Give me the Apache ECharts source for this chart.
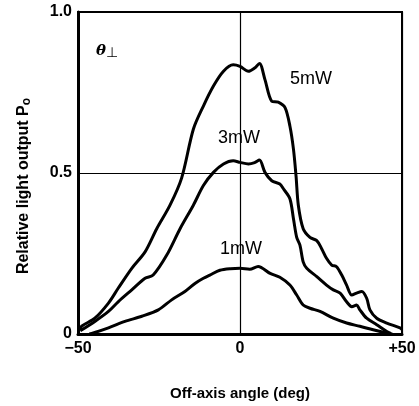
<!DOCTYPE html>
<html>
<head>
<meta charset="utf-8">
<script src="https://cdn.jsdelivr.net/npm/echarts@6/dist/echarts.min.js"></script>
<style>html,body{margin:0;padding:0;background:#fff}#c{width:419px;height:406px}</style>
</head>
<body>
<div id="c"></div>
<script>
// Off-axis angle (deg) and relative light output Po for each drive power
var ang5 = [-49.3, -48.9, -44.8, -40.6, -37.6, -33.4, -29.3, -25.7, -21.6, -18, -14.4, -11.3, -8.2, -5.1, -2.1, 0, 2.6, 4.5, 6, 7.7, 9.8, 11.8, 13.9, 15.4, 16.5, 17.3, 18, 19.5, 21.6, 23.7, 25.2, 26.7, 28.3, 29.8, 31.4, 32.9, 34.5, 36, 37.6, 39.1, 40.1, 42.2, 45.3, 49.4, 50];
var p5   = [0.013, 0.024, 0.049, 0.096, 0.142, 0.204, 0.255, 0.327, 0.40, 0.485, 0.636, 0.708, 0.77, 0.816, 0.836, 0.831, 0.816, 0.826, 0.84, 0.79, 0.723, 0.72, 0.703, 0.646, 0.574, 0.49, 0.40, 0.327, 0.30, 0.29, 0.265, 0.235, 0.214, 0.209, 0.183, 0.152, 0.121, 0.127, 0.132, 0.111, 0.075, 0.049, 0.034, 0.019, 0.014];

var ang3 = [-49.3, -44.8, -40.6, -37.6, -33.4, -29.3, -26.8, -22.6, -18.5, -14.4, -11.3, -8.2, -5.1, -2.1, 0, 2.6, 4.5, 6, 7.7, 9.8, 12.3, 13.4, 15.4, 16.5, 17.5, 18.5, 19.5, 20.6, 23.7, 26.7, 28.8, 30.9, 32.9, 34.5, 36, 37, 39.1, 42.2, 45.3, 46.5];
var p3   = [0.01, 0.039, 0.07, 0.10, 0.137, 0.173, 0.183, 0.245, 0.327, 0.40, 0.461, 0.502, 0.528, 0.538, 0.533, 0.528, 0.532, 0.54, 0.502, 0.476, 0.466, 0.451, 0.42, 0.358, 0.30, 0.276, 0.224, 0.204, 0.178, 0.152, 0.137, 0.127, 0.10, 0.085, 0.09, 0.075, 0.049, 0.029, 0.008, 0.002];

var ang1 = [-46.5, -45.3, -40.6, -35.5, -30.3, -25.2, -21.1, -17, -13.9, -11.3, -9.3, -6.2, -3, 0, 3, 5.6, 9.3, 12.3, 15.4, 17.5, 19.5, 21.6, 24.7, 28.8, 32.9, 37, 41.1, 45.3, 47];
var p1   = [0, 0.003, 0.019, 0.039, 0.055, 0.075, 0.106, 0.132, 0.157, 0.173, 0.183, 0.198, 0.203, 0.204, 0.201, 0.21, 0.188, 0.176, 0.152, 0.121, 0.09, 0.08, 0.07, 0.049, 0.034, 0.024, 0.013, 0.003, 0];

var xTicks = {'-50': '\u221250', '0': '0', '50': '+50'};
var yTicks = {'0': '0', '0.5': '0.5', '1': '1.0'};
var seriesNames = ['5mW', '3mW', '1mW'];

function pairs(xs, ys) { return xs.map(function (x, i) { return [x, ys[i]]; }); }

var chart = echarts.init(document.getElementById('c'));
var FONT = '"Liberation Sans", Arial, sans-serif';
var lineSeries = function (name, xs, ys) {
  return {
    name: name, type: 'line', data: pairs(xs, ys), showSymbol: false, smooth: 0.3,
    lineStyle: { color: '#000', width: 3 }, itemStyle: { color: '#000' }, silent: true
  };
};
chart.setOption({
  animation: false,
  backgroundColor: '#fff',
  grid: { left: 78, right: 17, top: 12, bottom: 70, show: true, borderColor: '#000', borderWidth: 2, backgroundColor: 'transparent' },
  xAxis: {
    type: 'value', min: -50, max: 50, interval: 50,
    name: 'Off-axis angle (deg)', nameLocation: 'middle', nameGap: 52,
    nameTextStyle: { color: '#000', fontFamily: FONT, fontWeight: 'bold', fontSize: 15 },
    axisLine: { show: true, onZero: false, lineStyle: { color: '#000', width: 3 } },
    axisTick: { show: false },
    axisLabel: { color: '#000', fontFamily: FONT, fontWeight: 'bold', fontSize: 16, margin: 7,
      formatter: function (v) { return xTicks[String(v)]; } },
    splitLine: { show: true, lineStyle: { color: '#000', width: 1.2 } }
  },
  yAxis: {
    type: 'value', min: 0, max: 1, interval: 0.5,
    axisLine: { show: true, onZero: false, lineStyle: { color: '#000', width: 3 } },
    axisTick: { show: false },
    axisLabel: { color: '#000', fontFamily: FONT, fontWeight: 'bold', fontSize: 16, margin: 6,
      formatter: function (v) { return yTicks[String(v)]; } },
    splitLine: { show: true, lineStyle: { color: '#000', width: 1.2 } }
  },
  series: [
    lineSeries(seriesNames[0], ang5, p5),
    lineSeries(seriesNames[1], ang3, p3),
    lineSeries(seriesNames[2], ang1, p1)
  ]
});

var lab = { fill: '#000', font: 'normal 18px ' + FONT, align: 'center', verticalAlign: 'middle' };
chart.setOption({
  graphic: [
    { type: 'text', x: 24, y: 186, rotation: Math.PI / 2, silent: true,
      style: { text: 'Relative light output P{s|o}', fill: '#000', font: 'bold 16px ' + FONT,
        align: 'center', verticalAlign: 'middle',
        rich: { s: { fontSize: 12, fontWeight: 'bold', fontFamily: FONT, fill: '#000', padding: [6, 0, 0, 0] } } } },
    { type: 'text', x: 96, y: 51, silent: true,
      style: { text: '{t|\u03b8}{p|\u22a5}', verticalAlign: 'middle', align: 'left', fill: '#000',
        rich: { t: { fontSize: 15, fontStyle: 'italic', fontWeight: 'bold', fontFamily: 'DejaVu Serif', fill: '#000' },
                p: { fontSize: 14, fontFamily: 'DejaVu Sans', fill: '#000', padding: [5, 0, 0, 0] } } } },
    { type: 'text', x: 311, y: 79, silent: true, style: Object.assign({ text: seriesNames[0] }, lab) },
    { type: 'text', x: 239, y: 138, silent: true, style: Object.assign({ text: seriesNames[1] }, lab) },
    { type: 'text', x: 241, y: 249, silent: true, style: Object.assign({ text: seriesNames[2] }, lab) }
  ]
});
</script>
</body>
</html>
